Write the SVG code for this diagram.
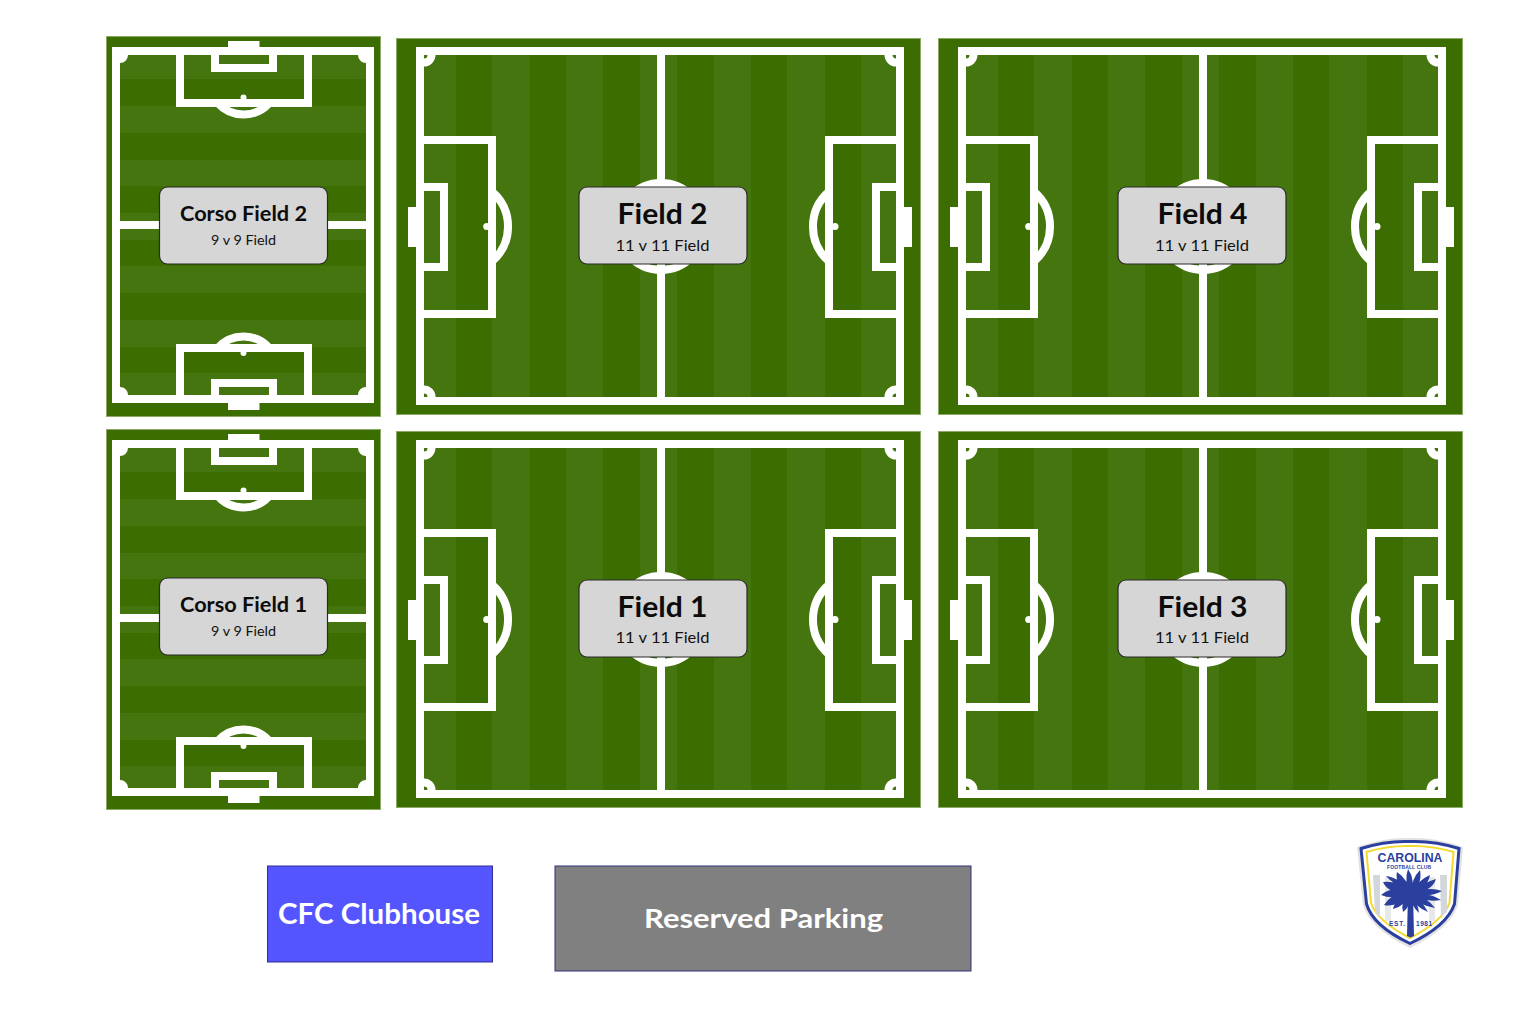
<svg xmlns="http://www.w3.org/2000/svg" width="1538" height="1019" viewBox="0 0 1538 1019">
<style>
.grass{fill:#3b6d00;stroke:#8aaa66;stroke-width:1}
.band{fill:#45750f}
.ln{fill:none;stroke:#fff;stroke-width:8}
.wf{fill:#fff}
.card{fill:#d6d6d6;stroke:#2b2b2b;stroke-width:1.2}
text{font-family:"Lato","Liberation Sans",sans-serif;text-anchor:middle}
.t1{font-size:28px;font-weight:700;fill:#0c0c0c}
.t2{font-size:16px;fill:#111}
.t3{font-size:20px;font-weight:700;fill:#0c0c0c}
.t4{font-size:12.5px;fill:#111}
.t5{font-weight:700;fill:#fff}
.lg{fill:#2b3f9e}
.lgt{font-family:"Liberation Sans",sans-serif;font-weight:700;fill:#2b3f9e}
</style>
<defs>
<g id="big">
<rect class="grass" x="396.500" y="38.500" width="524" height="376"/>
<path class="band" d="M424 55h32v342h-32zM492 55h38v342h-38zM566 55h37v342h-37zM640 55h37v342h-37zM714 55h37v342h-37zM787 55h38v342h-38zM861 55h35v342h-35z"/>
<path class="wf" d="M408 207h8v40h-8zM904 207h8v40h-8z"/>
<circle class="ln" cx="661" cy="226.500" r="43.500"/>
<path class="ln" d="M492 191.600A46 46 0 0 1 492 261.400M829 191.600A46 46 0 0 0 829 261.400"/>
<rect class="ln" x="420" y="51" width="480" height="350"/>
<path class="ln" d="M661 51V401M420 140H492V314H420M901 140H829V314H901M420 187H444V267H420M900 187H876V267H900"/>
<circle class="wf" cx="486.700" cy="226.500" r="3.500"/><circle class="wf" cx="835" cy="226.500" r="3.500"/>
<path class="ln" d="M424 62.500A7.500 7.500 0 0 0 431.500 55M896 62.500A7.500 7.500 0 0 1 888.500 55M424 389.500A7.500 7.500 0 0 1 431.500 397M896 389.500A7.500 7.500 0 0 0 888.500 397"/>
</g>
<g id="corso">
<rect class="grass" x="106.500" y="36.500" width="274" height="380"/>
<path class="band" d="M120 55h246v24H120zM120 106h246v27H120zM120 160h246v26H120zM120 213h246v27H120zM120 266h246v27H120zM120 320h246v27H120zM120 373h246v22H120z"/>
<path class="wf" d="M228 41h31.500v6H228zM228 403h31.500v7H228z"/>
<path class="ln" d="M217.800 103A34.500 34.500 0 0 0 269.200 103M217.800 348A34.500 34.500 0 0 1 269.200 348"/>
<rect class="ln" x="116" y="51" width="254" height="348"/>
<path class="ln" d="M116 225H370M180 51V103H308V51M215 51V68H273V51M180 399V348H308V399M215 399V383H273V399"/>
<circle class="wf" cx="243.500" cy="97.500" r="3"/><circle class="wf" cx="243.500" cy="353" r="3"/>
<path class="wf" d="M120 55h8A8 8 0 0 1 120 63zM366 55h-8A8 8 0 0 0 366 63zM120 395h8A8 8 0 0 0 120 387zM366 395h-8A8 8 0 0 1 366 387z"/>
</g>
<rect id="card" class="card" width="168" height="77" rx="8"/>
</defs>

<g id="corso-field-2"><use href="#corso"/><use href="#card" x="159.500" y="187"/>
<text class="t3" x="243.500" y="221" textLength="127" lengthAdjust="spacingAndGlyphs">Corso Field 2</text><text class="t4" x="243.500" y="245" textLength="65" lengthAdjust="spacingAndGlyphs">9 v 9 Field</text></g>
<g id="corso-field-1"><use href="#corso" y="393"/><use href="#card" x="159.500" y="578"/>
<text class="t3" x="243.500" y="612" textLength="127" lengthAdjust="spacingAndGlyphs">Corso Field 1</text><text class="t4" x="243.500" y="636" textLength="65" lengthAdjust="spacingAndGlyphs">9 v 9 Field</text></g>
<g id="field-2"><use href="#big"/><use href="#card" x="579" y="187"/>
<text class="t1" x="662.500" y="224" textLength="90" lengthAdjust="spacingAndGlyphs">Field 2</text><text class="t2" x="662.500" y="251" textLength="94" lengthAdjust="spacingAndGlyphs">11 v 11 Field</text></g>
<g id="field-4"><use href="#big" x="542"/><use href="#card" x="1118" y="187"/>
<text class="t1" x="1202.500" y="224" textLength="90" lengthAdjust="spacingAndGlyphs">Field 4</text><text class="t2" x="1202" y="251" textLength="94" lengthAdjust="spacingAndGlyphs">11 v 11 Field</text></g>
<g id="field-1"><use href="#big" y="393"/><use href="#card" x="579" y="580"/>
<text class="t1" x="662.500" y="617" textLength="90" lengthAdjust="spacingAndGlyphs">Field 1</text><text class="t2" x="662.500" y="643" textLength="94" lengthAdjust="spacingAndGlyphs">11 v 11 Field</text></g>
<g id="field-3"><use href="#big" x="542" y="393"/><use href="#card" x="1118" y="580"/>
<text class="t1" x="1202.500" y="617" textLength="90" lengthAdjust="spacingAndGlyphs">Field 3</text><text class="t2" x="1202" y="643" textLength="94" lengthAdjust="spacingAndGlyphs">11 v 11 Field</text></g>

<g id="clubhouse"><rect x="267.500" y="866" width="225" height="96" fill="#5555ff" stroke="#2f2f9a" stroke-width="1"/>
<text class="t5" font-size="29" x="379" y="924" textLength="202" lengthAdjust="spacingAndGlyphs">CFC Clubhouse</text></g>
<g id="parking"><rect x="555" y="866" width="416" height="105" fill="#808080" stroke="#30307f" stroke-width="1"/>
<text class="t5" font-size="27" x="763.500" y="928" textLength="239" lengthAdjust="spacingAndGlyphs">Reserved Parking</text></g>

<g id="logo">
<path d="M1357 847Q1385 837 1410 838Q1436 837 1463 847L1458 905Q1450 929 1410 948Q1370 929 1363 905Z" fill="#e2e2e2"/>
<path d="M1361 848.500Q1386 840.500 1410 841.500Q1434 840.500 1459 848.500L1454.500 904Q1447 926 1410 943.500Q1373 926 1366.500 904Z" fill="#fff" stroke="#2b3f9e" stroke-width="3"/>
<path d="M1366.500 852Q1388 845.500 1410 846Q1432 845.500 1453.500 852L1449.500 903Q1443 921 1410 938Q1377 921 1371 903Z" fill="#fff" stroke="#f3d92e" stroke-width="2"/>
<path d="M1373 875h7v43l-5-6zM1440 875h7v36l-6 7z" fill="#d3d7db"/><path d="M1385 877h6v44h-6zM1429 877h6v44h-6z" fill="#e6e8ea"/>
<text class="lgt" font-size="12" x="1410" y="862" textLength="65" lengthAdjust="spacingAndGlyphs">CAROLINA</text>
<text class="lgt" font-size="5" x="1409" y="868.500" textLength="44" lengthAdjust="spacing">FOOTBALL CLUB</text>
<path class="lg" d="M1408 893h5l1 43-3.500 1.500-3.500-1.500z"/>
<path class="lg" d="M1410 894Q1394 884 1397 872Q1409 880 1410 894ZM1410 894Q1391 882 1386 876Q1402 878 1410 894ZM1410 894Q1388 894 1383 882Q1401 880 1410 894ZM1410 894Q1392 900 1381 895Q1394 884 1410 894ZM1410 894Q1396 908 1384 905Q1392 892 1410 894ZM1410 894Q1404 907 1393 909Q1396 896 1410 894ZM1410 894Q1410 908 1403 912Q1400 901 1410 894ZM1410 894Q1404 880 1408 869Q1416 880 1410 894ZM1410 894Q1412 878 1420 870Q1423 884 1410 894ZM1410 894Q1418 880 1430 875Q1428 888 1410 894ZM1410 894Q1424 882 1436 879Q1432 892 1410 894ZM1410 894Q1428 886 1442 891Q1430 898 1410 894ZM1410 894Q1428 892 1441 900Q1426 903 1410 894ZM1410 894Q1426 896 1435 908Q1420 906 1410 894ZM1410 894Q1422 900 1428 912Q1416 908 1410 894ZM1410 894Q1418 902 1419 913Q1411 906 1410 894Z"/>
<text class="lgt" font-size="6.500" x="1397" y="926" textLength="16" lengthAdjust="spacing">EST.</text>
<text class="lgt" font-size="6.500" x="1424" y="926" textLength="16" lengthAdjust="spacing">1981</text>
</g>
</svg>
